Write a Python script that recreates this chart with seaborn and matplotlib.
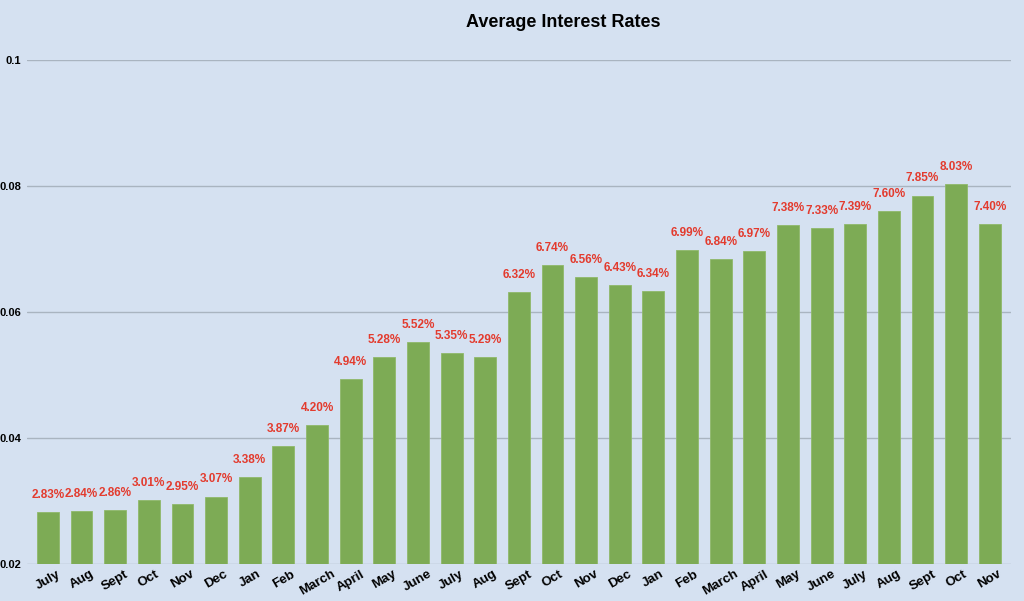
import matplotlib
matplotlib.use("Agg")
import matplotlib.pyplot as plt
import seaborn as sns
import pandas as pd
from matplotlib.ticker import FuncFormatter

months = ["July", "Aug", "Sept", "Oct", "Nov", "Dec", "Jan", "Feb", "March", "April",
          "May", "June", "July", "Aug", "Sept", "Oct", "Nov", "Dec", "Jan", "Feb",
          "March", "April", "May", "June", "July", "Aug", "Sept", "Oct", "Nov"]
rates = [0.0283, 0.0284, 0.0286, 0.0301, 0.0295, 0.0307, 0.0338, 0.0387, 0.0420, 0.0494,
         0.0528, 0.0552, 0.0535, 0.0529, 0.0632, 0.0674, 0.0656, 0.0643, 0.0634, 0.0699,
         0.0684, 0.0697, 0.0738, 0.0733, 0.0739, 0.0760, 0.0785, 0.0803, 0.0740]
yticks = [0.02, 0.04, 0.06, 0.08, 0.1]

bg = "#d5e1f1"
sns.set_theme(style="white")
plt.rcParams["font.family"] = ["Liberation Sans", "DejaVu Sans"]

df = pd.DataFrame({"idx": list(range(len(months))), "rate": rates})

fig = plt.figure(figsize=(10.24, 6.01), dpi=100, facecolor=bg)
ax = fig.add_axes([0.0264, 0.0616, 0.9606, 0.8384])
ax.set_facecolor(bg)

sns.barplot(data=df, x="idx", y="rate", color="#7dab55", saturation=1, width=0.65,
            ax=ax, zorder=3, edgecolor="#8fb96a", linewidth=0.6)

ax.set_ylim(0.02, 0.1)
ax.set_xlim(-0.62, len(months) - 0.38)
ax.set_yticks(yticks)
ax.yaxis.set_major_formatter(FuncFormatter(lambda v, p: f"{v:g}"))
ax.grid(axis="y", color="#a9b4c0", linewidth=1.0, zorder=0)
for s in ax.spines.values():
    s.set_visible(False)

ax.set_xticks(range(len(months)))
ax.set_xticklabels(months, rotation=30, ha="center", fontsize=9.5, fontweight="bold", color="black")
ax.tick_params(axis="y", labelsize=8, length=0, pad=4)
ax.tick_params(axis="x", length=0, pad=3)
for t in ax.get_yticklabels():
    t.set_fontweight("bold")
    t.set_color("black")
ax.set_xlabel("")
ax.set_ylabel("")

for i, v in enumerate(rates):
    ax.annotate(f"{v*100:.2f}%", (i, v), xytext=(0, 8), textcoords="offset points",
                ha="center", va="bottom", fontsize=8.5, fontweight="bold", color="#e33b2e")

fig.text(0.55, 0.962, "Average Interest Rates", ha="center", va="center",
         fontsize=13, fontweight="bold", color="black")

fig.savefig("out.png", dpi=100, facecolor=bg)
